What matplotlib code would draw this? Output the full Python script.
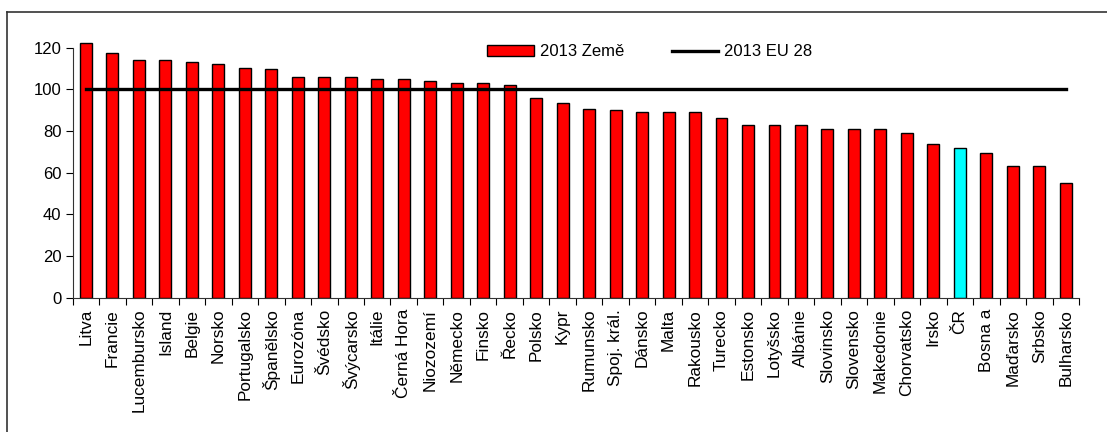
import matplotlib.pyplot as plt
from matplotlib.lines import Line2D

plt.rcParams['font.family'] = ['Liberation Sans', 'DejaVu Sans']

# data
countries = ['Litva', 'Francie', 'Lucembursko', 'Island', 'Belgie', 'Norsko',
             'Portugalsko', 'Španělsko', 'Eurozóna', 'Švédsko', 'Švýcarsko',
             'Itálie', 'Černá Hora', 'Niozozemí', 'Německo', 'Finsko', 'Řecko',
             'Polsko', 'Kypr', 'Rumunsko', 'Spoj. král.', 'Dánsko', 'Malta',
             'Rakousko', 'Turecko', 'Estonsko', 'Lotyšsko', 'Albánie',
             'Slovinsko', 'Slovensko', 'Makedonie', 'Chorvatsko', 'Irsko', 'ČR',
             'Bosna a', 'Maďarsko', 'Srbsko', 'Bulharsko']
values_2013 = [122, 117.6, 114, 114, 113, 112, 110.4, 109.5, 106, 106, 106,
               105, 105, 104, 103, 103, 102, 96, 93.5, 90.7, 90, 89, 89, 89,
               86.4, 82.8, 82.8, 82.8, 81, 81, 81, 79.2, 73.8, 72, 69.3, 63.2,
               63.2, 55]
eu28_2013 = 100
highlight = 'ČR'

x = list(range(len(countries)))
colors = ['#00FFFF' if c == highlight else '#FF0000' for c in countries]

fig = plt.figure(figsize=(11.07, 4.32), dpi=100)
ax = fig.add_axes([0.0657, 0.311, 0.909, 0.627])

bars = ax.bar(x, values_2013, width=0.45, color=colors, edgecolor='black',
              linewidth=1.0, zorder=2)
line, = ax.plot(x, [eu28_2013] * len(x), color='black', linewidth=2.4,
                zorder=3)

ax.set_xlim(-0.5, len(x) - 0.5)
ax.set_ylim(0, 130)
ax.set_yticks(range(0, 121, 20))
ax.tick_params(axis='y', direction='out', length=5, labelsize=12, pad=3)

# ticks between categories, labels at the centres
ax.set_xticks([i - 0.5 for i in range(len(x) + 1)])
ax.set_xticklabels([])
ax.tick_params(axis='x', which='major', direction='out', length=5)
ax.set_xticks(x, minor=True)
ax.set_xticklabels(countries, minor=True, rotation=90, fontsize=12.4)
ax.tick_params(axis='x', which='minor', length=0, pad=8)

for s in ['top', 'right']:
    ax.spines[s].set_visible(False)
for s in ['left', 'bottom']:
    ax.spines[s].set_color('#333333')
ax.spines['left'].set_bounds(0, 120)

fig.legend([bars[0], line], ['2013 Země', '2013 EU 28'], loc='center left',
           bbox_to_anchor=(479 / 1107, 1 - 52 / 432), ncol=2, frameon=False,
           fontsize=12, handlelength=2.8, handleheight=0.65,
           handletextpad=0.35, columnspacing=2.85, borderpad=0)

# outer frame (top and left edges visible in the original)
fig.add_artist(Line2D([7 / 1107, 1.0], [1 - 12 / 432] * 2, color='#333333',
                      linewidth=1.2, transform=fig.transFigure))
fig.add_artist(Line2D([7 / 1107] * 2, [0, 1 - 12 / 432], color='#333333',
                      linewidth=1.2, transform=fig.transFigure))

fig.savefig('out.png', dpi=100)
